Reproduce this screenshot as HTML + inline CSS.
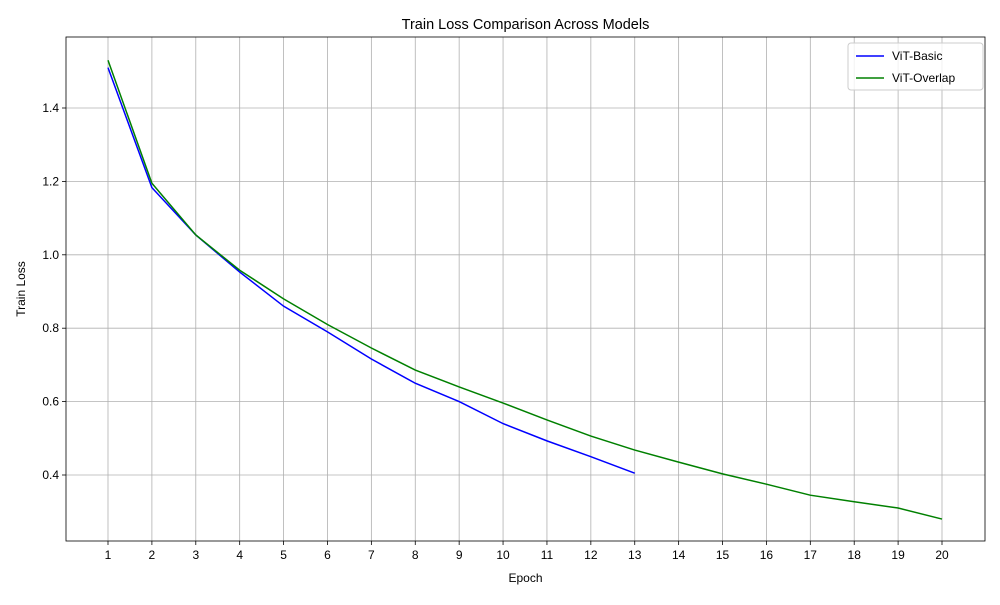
<!DOCTYPE html>
<html><head><meta charset="utf-8"><style>
body{margin:0;background:#fff;font-family:"Liberation Sans","DejaVu Sans",sans-serif}
svg text{font-family:"Liberation Sans","DejaVu Sans",sans-serif}
</style></head><body>
<svg id="c" width="1000" height="600" xmlns="http://www.w3.org/2000/svg"></svg>
<script>
const epochs=[1,2,3,4,5,6,7,8,9,10,11,12,13,14,15,16,17,18,19,20];
const basicLoss=[1.51,1.183,1.054,0.953,0.86,0.79,0.716,0.65,0.6,0.54,0.493,0.45,0.405];
const overlapLoss=[1.53,1.195,1.054,0.958,0.88,0.81,0.746,0.686,0.64,0.596,0.55,0.506,0.468,0.435,0.403,0.375,0.345,0.327,0.31,0.28];
const yTicks=[0.4,0.6,0.8,1.0,1.2,1.4];
const L=66,R=985,T=37,B=541;
const xs=e=>108+(e-1)*(942-108)/19;
const ys=v=>475-(v-0.4)*367;
const svg=document.getElementById('c');
const NS='http://www.w3.org/2000/svg';
function mk(t,a,txt){const e=document.createElementNS(NS,t);for(const k in a)e.setAttribute(k,a[k]);if(txt!=null)e.textContent=txt;svg.appendChild(e);return e;}
// grid + x ticks
epochs.forEach(e=>{const x=xs(e);
 let g=mk('line',{x1:x,x2:x,y1:T,y2:B,stroke:'#b0b0b0','stroke-width':0.8});
 
 let t=mk('line',{x1:x,x2:x,y1:B,y2:B+4,stroke:'#000','stroke-width':0.8});
 
 let l=mk('text',{x:x,y:B+18,'font-size':12,'text-anchor':'middle'},String(e));
 
});
yTicks.forEach(v=>{const y=ys(v);
 let g=mk('line',{x1:L,x2:R,y1:y,y2:y,stroke:'#b0b0b0','stroke-width':0.8});
 
 let t=mk('line',{x1:L-4,x2:L,y1:y,y2:y,stroke:'#000','stroke-width':0.8});
 
 let l=mk('text',{x:L-7,y:y+4,'font-size':12,'text-anchor':'end'},v.toFixed(1));
 
});
function series(arr,color,name){
 const p=mk('polyline',{points:arr.map((v,i)=>xs(epochs[i])+','+ys(v)).join(' '),fill:'none',stroke:color,'stroke-width':1.5});
 
}
series(basicLoss,'#0000ff','vit-basic-line');
series(overlapLoss,'#008000','vit-overlap-line');
let f=mk('rect',{x:L,y:T,width:R-L,height:B-T,fill:'none',stroke:'#000','stroke-width':0.8});

let ti=mk('text',{x:(L+R)/2,y:29,'font-size':14.5,'text-anchor':'middle'},'Train Loss Comparison Across Models');

let xl=mk('text',{x:(L+R)/2,y:582,'font-size':12,'text-anchor':'middle'},'Epoch');

let yl=mk('text',{x:25,y:(T+B)/2,'font-size':12,'text-anchor':'middle',transform:'rotate(-90 25 '+(T+B)/2+')'},'Train Loss');

let lg=mk('rect',{x:848,y:43,width:135,height:47,rx:3,fill:'#fff','fill-opacity':0.8,stroke:'#ccc'});

[['ViT-Basic','#0000ff',56],['ViT-Overlap','#008000',78]].forEach(([n,c,y])=>{
 let s=mk('line',{x1:856,x2:884,y1:y,y2:y,stroke:c,'stroke-width':1.5});
 
 let t=mk('text',{x:892,y:y+4,'font-size':12},n);
 
});
</script>
</body></html>
